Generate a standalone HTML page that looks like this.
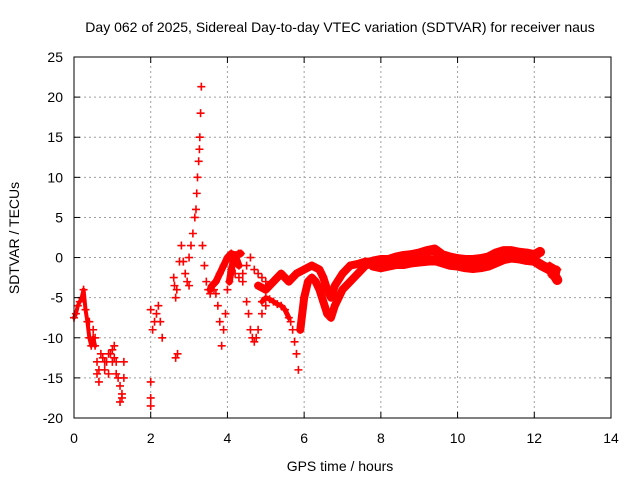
<!DOCTYPE html>
<html><head><meta charset="utf-8"><style>
body{margin:0;background:#fff}
svg{display:block}
text{font-family:"Liberation Sans",sans-serif;font-size:14px;fill:#000}
</style></head><body>
<svg id="chart" width="640" height="480" xmlns="http://www.w3.org/2000/svg">
<text x="340" y="32" text-anchor="middle">Day 062 of 2025, Sidereal Day-to-day VTEC variation (SDTVAR) for receiver naus</text>
<text transform="translate(19,238) rotate(-90)" text-anchor="middle">SDTVAR / TECUs</text>
<text x="340" y="471" text-anchor="middle">GPS time / hours</text>
<g id="grid"></g><g id="marks"></g><g id="axes"></g>
</svg>
<script>
const xTicks=[0,2,4,6,8,10,12,14];
const yTicks=[-20,-15,-10,-5,0,5,10,15,20,25];
const trackAHours=[0,0.05,0.1,0.15,0.2,0.25,0.3,0.35,0.4,0.45,0.5,0.55,0.6,0.65,0.7,0.75,0.8,0.85,0.9,0.95,1.0,1.05,1.1,1.15,1.2,1.25,1.3];
const trackAValues=[-7.5,-7,-6,-5.5,-5,-4,-6.5,-8,-10,-11,-10,-11,-13,-14,-12,-12.5,-13,-13,-12,-12,-11.5,-11,-13,-15,-16,-17,-15];
const trackA2Hours=[0.4,0.5,0.55,0.6,0.65,0.8,0.9,1.0,1.05,1.1,1.2,1.25,1.3];
const trackA2Values=[-8,-9,-10,-14.5,-15.5,-14,-14.5,-13,-12.5,-14.5,-18,-17.5,-13];
const trackBHours=[2.0,2.0,2.0,2.0,2.05,2.1,2.15,2.2,2.25,2.3,2.6,2.62,2.65,2.68,2.65,2.7,2.75,2.8];
const trackBValues=[-15.5,-17.5,-18.5,-6.5,-9,-8,-7,-6,-8,-10,-2.5,-3.5,-5,-4,-12.5,-12,-0.5,1.5];
const peakHours=[2.85,2.9,2.95,3.0,3.0,3.05,3.1,3.15,3.18,3.2,3.22,3.25,3.27,3.28,3.3,3.32];
const peakValues=[-0.5,-2,-3,-3.5,0,1.5,3,5,6,8,10,12,13.5,15,18,21.3];
const trackDHours=[3.35,3.4,3.45,3.5,3.55,3.6,3.65,3.7,3.75,3.8,3.85,3.9,3.95,4.0,4.05,4.1,4.15,4.2,4.25,4.3,4.35];
const trackDValues=[1.5,-1,-3,-4,-4.5,-3.5,-4,-4.5,-6,-8,-11,-9,-7,-4,-3,-1.5,-0.5,0,0.3,0.5,0.5];
const trackEHours=[3.55,3.6,3.7,3.8,3.9,4.0,4.1,4.2,4.3,4.4,4.5,4.55,4.6,4.65,4.7,4.75,4.8,4.9,5.0];
const trackEValues=[-4,-3.5,-3,-2,-1,0,0.5,0.3,-1,-3,-5.5,-7,-9,-10,-10.5,-10,-9,-7,-6];
const trackE2Hours=[4.2,4.3,4.4,4.5,4.6,4.7,4.8,4.9,5.0];
const trackE2Values=[-2,-2.5,-2,-1,0,-1.5,-2,-2.5,-3];
const trackFHours=[4.9,5.0,5.1,5.2,5.3,5.4,5.5,5.6,5.65,5.7,5.75,5.8,5.85];
const trackFValues=[-5.5,-5,-5.2,-5.5,-5.8,-6,-6.5,-7.5,-8,-9,-10.5,-12,-14];
const trackGHours=[4.8,5.0,5.2,5.4,5.6,5.8,6.0,6.2,6.4,6.5,6.6,6.7,6.8,7.0,7.2,7.4,7.6,7.8];
const trackGValues=[-3.5,-4,-3,-2,-3,-2,-1.5,-1,-1.5,-2.5,-4,-5,-3.5,-2,-1,-0.8,-0.5,-0.5];
const trackHHours=[5.9,6.0,6.1,6.2,6.3,6.4,6.5,6.6,6.7,6.8,6.9,7.0,7.2,7.4,7.6,7.8];
const trackHValues=[-9,-5,-3,-2.5,-3,-4,-5.5,-7,-7.5,-6,-5,-4,-3,-2,-1,-0.7];
const trackUHours=[7.8,8.0,8.2,8.4,8.6,8.8,9.0,9.2,9.4,9.6,9.8,10.0,10.2,10.4,10.6,10.8,11.0,11.2,11.4,11.6,11.8,12.0,12.15];
const trackUValues=[-0.5,-0.3,-0.3,0,0.2,0.3,0.5,0.8,1.0,0.3,0,-0.2,-0.3,-0.3,-0.2,0,0.5,0.8,0.8,0.6,0.5,0.3,0.7];
const trackLHours=[7.8,8.0,8.2,8.4,8.6,8.8,9.0,9.2,9.4,9.6,9.8,10.0,10.2,10.4,10.6,10.8,11.0,11.2,11.4,11.6,11.8,12.0,12.2,12.4,12.5,12.6];
const trackLValues=[-1.0,-1.2,-1.0,-0.8,-0.8,-0.6,-0.5,-0.4,-0.3,-0.6,-0.9,-1.0,-1.2,-1.3,-1.2,-1.0,-0.6,-0.2,0,-0.1,-0.3,-0.4,-1.0,-1.5,-2.0,-2.8];
const loopHours=[12.2,12.3,12.4,12.5,12.6,12.55,12.45];
const loopValues=[-0.8,-1.2,-1.0,-1.3,-1.5,-2.5,-2.2];

const X0=74,X1=611,Y0=418,Y1=57;
const xs=h=>X0+(h-0)/(14-0)*(X1-X0);
const ys=v=>Y0-(v+20)/(45)*(Y0-Y1);
const NS="http://www.w3.org/2000/svg";
function mk(tag,attrs,parent){const e=document.createElementNS(NS,tag);for(const k in attrs)e.setAttribute(k,attrs[k]);parent.appendChild(e);return e;}
const grid=document.getElementById('grid'),axes=document.getElementById('axes'),marks=document.getElementById('marks');
xTicks.forEach(t=>{const x=xs(t);
 if(t>0&&t<14){const l=mk('line',{x1:x,x2:x,y1:Y0,y2:Y1,stroke:'#a0a0a0','stroke-dasharray':'2,3'},grid);
 
 }
 mk('line',{x1:x,x2:x,y1:Y0,y2:Y0-6,stroke:'#000'},axes);mk('line',{x1:x,x2:x,y1:Y1,y2:Y1+6,stroke:'#000'},axes);
 const tx=mk('text',{x:x,y:Y0+25,'text-anchor':'middle'},axes);tx.textContent=t;
 
 });
yTicks.forEach(t=>{const y=ys(t);
 if(t>-20&&t<25){const l=mk('line',{x1:X0,x2:X1,y1:y,y2:y,stroke:'#a0a0a0','stroke-dasharray':'2,3'},grid);
 
 }
 mk('line',{x1:X0,x2:X0+6,y1:y,y2:y,stroke:'#000'},axes);mk('line',{x1:X1,x2:X1-6,y1:y,y2:y,stroke:'#000'},axes);
 const tx=mk('text',{x:X0-11,y:y+5,'text-anchor':'end'},axes);tx.textContent=t;
 
 });
const frame=mk('rect',{x:X0,y:Y1,width:X1-X0,height:Y0-Y1,fill:'none',stroke:'#000'},axes);


function band(H,V,w){const p=mk('polyline',{points:H.map((h,i)=>xs(h)+','+ys(V[i])).join(' '),fill:'none',stroke:'#f00','stroke-width':w,'stroke-linejoin':'round','stroke-linecap':'round'},marks);
 
 }
function pts(H,V){H.forEach((h,i)=>{const x=xs(h),y=ys(V[i]);
 const p=mk('path',{d:`M${x-4},${y}H${x+4}M${x},${y-4}V${y+4}`,stroke:'#f00','stroke-width':1.6},marks);
 
 });}
band(trackGHours,trackGValues,8);band(trackHHours,trackHValues,8);band(trackUHours,trackUValues,10);band(trackLHours,trackLValues,10);band(loopHours,loopValues,7);
band(trackDHours.slice(14),trackDValues.slice(14),7);band(trackEHours.slice(0,9),trackEValues.slice(0,9),7);
band(trackAHours.slice(0,12),trackAValues.slice(0,12),4);band(trackFHours.slice(0,8),trackFValues.slice(0,8),5);
[[trackAHours,trackAValues],[trackA2Hours,trackA2Values],[trackBHours,trackBValues],[peakHours,peakValues],[trackDHours,trackDValues],[trackEHours,trackEValues],[trackE2Hours,trackE2Values],[trackFHours,trackFValues],[trackGHours,trackGValues],[trackHHours,trackHValues],[trackUHours,trackUValues],[trackLHours,trackLValues],[loopHours,loopValues]].forEach(s=>pts(s[0],s[1]));
</script>
</body></html>
